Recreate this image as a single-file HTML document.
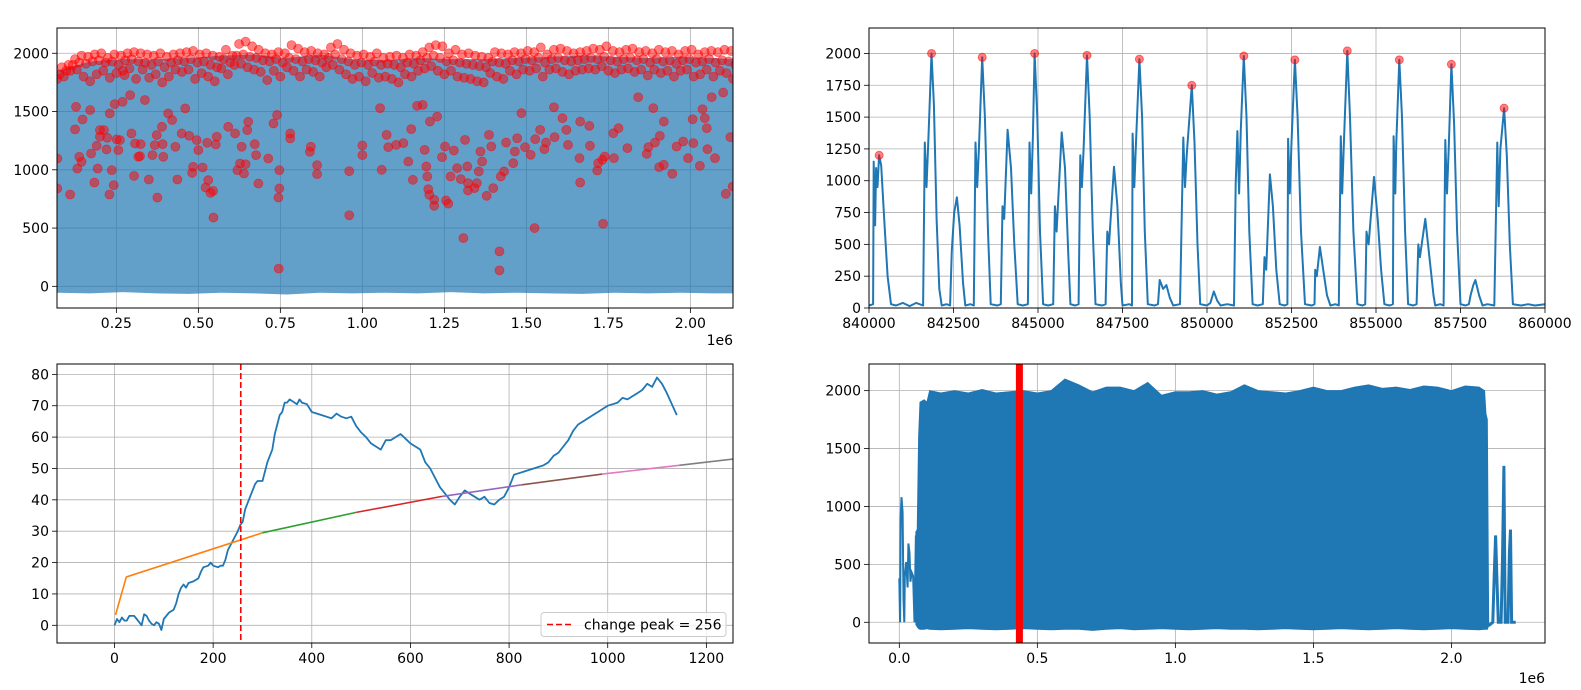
<!DOCTYPE html>
<html><head><meta charset="utf-8">
<style>
html,body{margin:0;padding:0;background:#fff;}
svg{display:block;font-family:"DejaVu Sans","Liberation Sans",sans-serif;}
</style></head>
<body>
<svg id="fig" xmlns="http://www.w3.org/2000/svg" width="1581" height="690" viewBox="0 0 1581 690"></svg>
<script>
// ---------- top-left data (x in 1e6) ----------
const tlFillX=[0.07,0.17,0.27,0.37,0.47,0.57,0.67,0.77,0.87,0.97,1.07,1.17,1.27,1.37,1.47,1.57,1.67,1.77,1.87,1.97,2.07,2.13];
const tlFillTop=[1850,1930,1950,1950,1960,1980,1990,1960,1990,1950,1940,1960,1950,1950,1960,1970,1980,1970,1960,1970,1960,1950];
const tlFillLow=[-55,-60,-50,-60,-65,-55,-60,-70,-55,-60,-55,-60,-50,-60,-55,-60,-65,-55,-60,-55,-60,-60];
const bandStart=0.07, bandStep=0.02;
const bandTop=[1880,1900,1950,1980,1970,1990,2000,1960,1990,1980,2000,2010,2000,1990,1980,2000,1970,1990,2000,2010,2020,1990,2000,1980,1970,2030,1980,2080,2100,2060,2030,2000,1990,2010,2000,2070,2040,2010,2020,2000,1990,2050,2080,2030,2000,1980,1990,1970,2000,1960,1970,1980,1960,1990,1980,2010,2050,2070,2060,2000,2030,1990,2000,1980,1970,1960,2010,2000,1990,2010,2000,2020,2010,2050,1990,2030,2040,2020,2000,2010,2020,2040,2030,2060,2020,2010,2030,2040,2010,2020,2000,2030,2010,2020,1990,2020,2030,1990,2010,2020,2010,2030,2020,2000];
const bandMid=[1820,1850,1900,1920,1910,1930,1940,1920,1930,1900,1940,1950,1930,1920,1900,1930,1880,1920,1940,1930,1950,1920,1930,1900,1880,1950,1920,1980,1990,1970,1960,1940,1930,1950,1920,1960,1950,1930,1950,1940,1920,1960,1990,1950,1930,1900,1920,1900,1930,1900,1910,1900,1880,1920,1910,1940,1960,1980,1960,1930,1940,1920,1910,1900,1890,1880,1930,1920,1910,1940,1930,1950,1940,1960,1920,1950,1960,1940,1930,1940,1950,1960,1950,1970,1940,1930,1950,1960,1940,1950,1920,1950,1930,1940,1910,1940,1950,1920,1930,1950,1920,1940,1930,1900];
const bandLow=[1780,1800,1850,1860,1800,1760,1820,1850,1790,1830,1850,1870,1780,1860,1790,1820,1750,1800,1860,1840,1860,1780,1830,1800,1760,1870,1820,1900,1910,1880,1860,1840,1770,1850,1800,1880,1850,1800,1860,1840,1800,1880,1900,1860,1820,1780,1800,1760,1830,1790,1800,1780,1750,1820,1800,1850,1870,1890,1850,1820,1850,1800,1790,1780,1760,1750,1830,1800,1780,1850,1820,1860,1850,1870,1800,1860,1870,1840,1820,1850,1860,1870,1860,1890,1850,1830,1860,1870,1840,1860,1810,1860,1830,1850,1800,1850,1860,1800,1820,1860,1800,1850,1830,1780];
const outX=[0.07,0.07,0.109,0.131,0.137,0.144,0.127,0.124,0.147,0.17,0.173,0.183,0.19,0.193,0.2,0.2,0.212,0.22,0.222,0.229,0.23,0.236,0.242,0.251,0.256,0.261,0.245,0.269,0.275,0.292,0.296,0.304,0.307,0.317,0.322,0.324,0.337,0.349,0.36,0.367,0.375,0.373,0.389,0.393,0.391,0.408,0.42,0.43,0.436,0.449,0.46,0.472,0.481,0.484,0.495,0.5,0.513,0.522,0.527,0.53,0.537,0.545,0.546,0.553,0.556,0.591,0.612,0.619,0.627,0.632,0.639,0.644,0.649,0.652,0.672,0.676,0.683,0.713,0.729,0.74,0.747,0.747,0.744,0.745,0.78,0.78,0.84,0.843,0.862,0.862,0.96,0.96,1.0,1.0,1.059,1.054,1.074,1.079,1.103,1.125,1.14,1.154,1.149,1.167,1.184,1.19,1.195,1.198,1.201,1.204,1.219,1.219,1.206,1.228,1.243,1.252,1.255,1.262,1.269,1.279,1.289,1.3,1.308,1.313,1.32,1.322,1.322,1.342,1.349,1.355,1.365,1.36,1.379,1.386,1.393,1.399,1.418,1.418,1.422,1.432,1.438,1.46,1.465,1.472,1.485,1.496,1.513,1.525,1.527,1.542,1.555,1.56,1.586,1.584,1.61,1.622,1.627,1.662,1.664,1.664,1.692,1.694,1.716,1.719,1.732,1.734,1.739,1.765,1.767,1.781,1.808,1.841,1.867,1.872,1.887,1.892,1.905,1.907,1.919,1.919,1.945,1.958,1.978,1.993,2.007,2.009,2.029,2.037,2.044,2.05,2.052,2.065,2.075,2.1,2.108,2.122,2.129];
const outY=[1097,840,788,1011,1112,1069,1541,1347,1432,1513,1140,891,1206,1011,1341,1284,1341,1175,1275,788,1484,997,868,1261,1169,1255,1564,1584,1813,1641,1312,948,1226,1112,1117,1220,1599,917,1126,1212,762,1298,1369,1112,1220,1484,1427,1198,917,1312,1527,1292,974,1026,1255,1169,1020,848,1232,911,802,819,590,1218,1284,1369,1312,997,1054,1198,968,1048,1341,1412,1220,1126,882,1097,1398,1470,997,840,762,152,1269,1312,1155,1198,1040,963,988,610,1209,1126,1000,1529,1300,1194,1214,1229,1071,914,1349,1549,1557,1171,1029,943,834,786,743,691,1414,1457,1109,1200,737,709,943,1166,1014,920,414,1257,1029,886,823,843,886,986,1071,1157,777,1300,1200,843,300,137,943,986,1234,1057,1157,1271,1486,1194,1129,500,1263,1343,1177,1234,1280,1537,1443,1343,1214,1100,891,1414,1377,1206,994,1057,1086,537,1114,1314,1100,1357,1186,1623,1137,1194,1529,1234,1023,1291,1414,1043,966,1200,1243,1100,1434,1229,1034,1520,1443,1357,1177,1623,1100,1663,794,1280,857];
const tlXTicks=[0.25,0.5,0.75,1.0,1.25,1.5,1.75,2.0];
const tlXLabels=["0.25","0.50","0.75","1.00","1.25","1.50","1.75","2.00"];
const tlYTicks=[0,500,1000,1500,2000];

// ---------- top-right data (x offset from 840000) ----------
const sigX=[0,120,140,180,210,250,300,360,450,550,650,800,1000,1200,1400,1600,1650,1700,1760,1850,1920,2000,2080,2150,2300,2400,2450,2520,2600,2680,2780,2850,3000,3100,3150,3200,3250,3350,3430,3520,3600,3800,3900,3950,4000,4100,4200,4300,4400,4550,4700,4750,4800,4850,4900,4980,5060,5150,5300,5450,5500,5550,5700,5800,5900,5960,6100,6200,6250,6300,6350,6450,6530,6620,6700,6900,7000,7050,7100,7250,7350,7450,7500,7700,7780,7800,7850,7900,8000,8080,8160,8250,8450,8550,8600,8700,8800,8900,9000,9200,9300,9350,9400,9550,9630,9720,9800,10000,10100,10200,10300,10400,10600,10800,10850,10900,10950,11000,11090,11170,11250,11350,11500,11650,11700,11750,11860,11950,12050,12150,12300,12380,12400,12450,12500,12600,12680,12780,12900,13100,13180,13200,13250,13340,13450,13550,13650,13800,13900,13960,14000,14050,14150,14230,14330,14450,14600,14680,14720,14780,14940,15050,15150,15250,15400,15500,15520,15570,15600,15690,15770,15860,15950,16100,16200,16250,16300,16460,16600,16700,16750,16900,17000,17050,17100,17150,17230,17310,17400,17500,17650,17750,17800,17880,17940,18050,18150,18300,18500,18590,18630,18680,18790,18870,18960,19050,19300,19500,19700,20000];
const sigY=[20,30,1150,650,1100,950,1200,1120,700,250,30,20,40,15,40,20,1300,950,1350,2000,1600,700,150,20,30,20,450,750,870,650,200,20,30,20,1300,950,1250,1970,1500,600,30,20,30,800,700,1400,1100,500,30,20,30,1300,900,1350,2000,1500,600,30,20,30,800,600,1380,1100,400,30,20,30,1200,950,1250,1985,1500,600,30,20,30,600,500,1110,800,200,20,30,20,1370,950,1300,1955,1500,600,30,20,30,220,150,180,80,20,30,1340,950,1200,1750,1300,500,30,20,40,130,60,20,30,20,980,1390,900,1400,1980,1500,600,30,20,30,400,300,1050,800,300,30,20,30,1330,900,1300,1950,1500,600,30,20,30,300,250,480,280,100,20,30,20,1350,900,1300,2020,1500,600,30,20,30,600,500,1030,700,300,30,20,30,1350,900,1300,1950,1500,600,30,20,30,500,400,700,350,100,20,30,20,1320,900,1250,1915,1450,600,30,20,30,100,180,220,100,20,30,20,1300,800,1250,1570,1200,500,30,20,30,20,30];
const peakX=[300,1850,3350,4900,6450,8000,9550,11090,12600,14150,15690,17230,18790];
const peakY=[1200,2000,1970,2000,1985,1955,1750,1980,1950,2020,1950,1915,1570];
const trXTicks=[840000,842500,845000,847500,850000,852500,855000,857500,860000];
const trYTicks=[0,250,500,750,1000,1250,1500,1750,2000];

// ---------- bottom-left data ----------
const cumX=[0,5,10,15,20,25,30,35,40,45,50,55,60,65,70,75,80,85,90,95,100,105,110,115,120,125,130,135,140,145,150,160,170,175,180,190,195,200,210,215,220,225,230,240,250,255,260,265,275,285,290,300,310,320,325,335,340,345,350,355,360,370,375,380,390,400,420,440,450,460,470,480,490,500,510,520,530,540,550,560,570,580,590,600,610,620,630,640,650,660,670,680,690,700,710,720,730,740,750,760,770,780,790,800,810,820,830,840,850,860,870,880,890,900,910,920,930,940,950,960,970,980,990,1000,1010,1020,1030,1040,1050,1060,1070,1080,1090,1100,1110,1120,1140];
const cumY=[0,2,1,2.5,1.5,1.5,3,3,3,2,1,0,3.5,3,1.5,0.5,0,1,0.5,-1.5,2,3,4,4.5,5,7,10,12,13,12,13.5,14,15,17,18.5,19,20,19,18.5,19,19,21,24,27,30,32,33,37,41,45,46,46,52,56,61,67,68,71,71,72,71.5,70.5,72,71,70.5,68,67,66,67.5,66.5,66,66.5,63.5,61.5,60,58,57,56,59,59,60,61,59.5,58,57,56,52,50,47,44,42,40,38.5,41,43,42,41,40,41,39,38.5,40,41,44,48,48.5,49,49.5,50,50.5,51,52,54,55,57,59,62,64,65,66,67,68,69,70,70.5,71,72.5,72,73,74,75,77,76,79,77,74,67];
const segX=[[2,24,300],[300,490],[490,664],[664,826],[826,989],[989,1145],[1145,1255]];
const segY=[[3.3,15.4,29.5],[29.5,36],[36,41.1],[41.1,44.8],[44.8,48.2],[48.2,51],[51,53]];
const segColors=["#ff7f0e","#2ca02c","#d62728","#9467bd","#8c564b","#e377c2","#7f7f7f"];
const changePeak=256;
const blXTicks=[0,200,400,600,800,1000,1200];
const blYTicks=[0,10,20,30,40,50,60,70,80];

// ---------- bottom-right data (x in 1e6) ----------
const brStartX=[0.0,0.003,0.005,0.008,0.012,0.015,0.018,0.02,0.025,0.03,0.033,0.037,0.04,0.045,0.05,0.055,0.06];
const brStartY=[380,0,900,1080,950,200,0,400,520,300,680,600,350,430,400,0,750];
const brEnvX=[0.06,0.065,0.07,0.075,0.09,0.1,0.11,0.15,0.2,0.25,0.3,0.35,0.4,0.45,0.5,0.55,0.6,0.65,0.7,0.75,0.8,0.85,0.9,0.95,1.0,1.05,1.1,1.15,1.2,1.25,1.3,1.35,1.4,1.45,1.5,1.55,1.6,1.65,1.7,1.75,1.8,1.85,1.9,1.95,2.0,2.05,2.1,2.12,2.125,2.13,2.135];
const brEnvTop=[780,800,1600,1900,1920,1900,2000,1980,2000,1980,2010,1980,1990,2000,1980,2000,2100,2050,1990,2030,2030,2000,2070,1960,1990,1990,2000,1970,1990,2050,2000,1990,1980,2000,2030,2000,2000,2030,2050,2020,2030,2010,2040,2030,2000,2040,2030,2000,1800,1750,-30];
const brEnvLow=[-20,-40,-55,-60,-60,-55,-60,-65,-60,-55,-60,-65,-60,-55,-60,-65,-60,-60,-70,-60,-55,-65,-60,-55,-60,-65,-60,-55,-60,-60,-65,-60,-55,-60,-65,-60,-55,-60,-65,-60,-55,-60,-65,-60,-55,-60,-65,-60,-60,-60,-30];
const brTailX=[2.135,2.15,2.155,2.16,2.165,2.17,2.18,2.185,2.19,2.195,2.205,2.21,2.214,2.218,2.233];
const brTailY=[-30,0,400,750,350,0,0,550,1350,0,0,600,800,0,0];
const redBarX=0.435;
const brXTicks=[0,0.5,1.0,1.5,2.0];
const brXLabels=["0.0","0.5","1.0","1.5","2.0"];
const brYTicks=[0,500,1000,1500,2000];

const NS="http://www.w3.org/2000/svg";
const fig=document.getElementById('fig');
function el(tag,attrs,parent){const e=document.createElementNS(NS,tag);for(const k in attrs)e.setAttribute(k,attrs[k]);(parent||fig).appendChild(e);return e;}
function makeAxes(L,R,T,B,xmin,xmax,ymin,ymax){return {L,R,T,B,sx:v=>L+(v-xmin)/(xmax-xmin)*(R-L),sy:v=>B-(v-ymin)/(ymax-ymin)*(B-T)};}
function grid(ax,g,xt,yt){
  xt.forEach(v=>{const l=el('line',{x1:ax.sx(v),x2:ax.sx(v),y1:ax.T,y2:ax.B,stroke:'#b0b0b0','stroke-width':0.8},g);
    
    });
  yt.forEach(v=>{const l=el('line',{x1:ax.L,x2:ax.R,y1:ax.sy(v),y2:ax.sy(v),stroke:'#b0b0b0','stroke-width':0.8},g);
    
    });
}
function frame(ax,g,xt,xl,yt,yl){
  const r=el('rect',{x:ax.L,y:ax.T,width:ax.R-ax.L,height:ax.B-ax.T,fill:'none',stroke:'#000','stroke-width':1},g);
  
  
  xt.forEach((v,i)=>{const x=ax.sx(v);
    el('line',{x1:x,x2:x,y1:ax.B,y2:ax.B+5,stroke:'#000','stroke-width':0.8},g);
    const t=el('text',{x:x,y:ax.B+20,'text-anchor':'middle','font-size':'14px',fill:'#000'},g);
    
    
    t.textContent=xl[i];});
  yt.forEach((v,i)=>{const y=ax.sy(v);
    el('line',{x1:ax.L-5,x2:ax.L,y1:y,y2:y,stroke:'#000','stroke-width':0.8},g);
    const t=el('text',{x:ax.L-8,y:y+5,'text-anchor':'end','font-size':'14px',fill:'#000'},g);
    
    
    t.textContent=yl[i];});
}
function clip(id,ax){const c=el('clipPath',{id:id});el('rect',{x:ax.L,y:ax.T,width:ax.R-ax.L,height:ax.B-ax.T},c);}
function pts(ax,xs,ys){return xs.map((x,i)=>ax.sx(x).toFixed(1)+','+ax.sy(ys[i]).toFixed(1)).join(' ');}

// ===== Top-left =====
{
const ax=makeAxes(57,733,28,308,0.069,2.130,-186,2217);
const g=el('g',{});


clip('c1',ax);
grid(ax,g,tlXTicks,tlYTicks);
const d=el('g',{'clip-path':'url(#c1)'},g);
const poly=tlFillX.map((x,i)=>ax.sx(x)+','+ax.sy(tlFillTop[i])).concat(tlFillX.slice().reverse().map((x,j)=>ax.sx(x)+','+ax.sy(tlFillLow[tlFillX.length-1-j]))).join(' ');
const f=el('polygon',{points:poly,fill:'rgba(31,119,180,0.7)'},d);


const dots=[];
[bandLow,bandMid,bandTop].forEach((arr,k)=>arr.forEach((y,i)=>dots.push([bandStart+bandStep*i+k*0.007,y])));
outX.forEach((x,i)=>dots.push([x,outY[i]]));
dots.forEach(p=>{const c=el('circle',{cx:ax.sx(p[0]),cy:ax.sy(p[1]),r:4.5,fill:'rgba(255,0,0,0.5)',stroke:'rgba(255,0,0,0.5)','stroke-width':0.8},d);
  
  });
frame(ax,g,tlXTicks,tlXLabels,tlYTicks,tlYTicks.map(String));
const o=el('text',{x:733,y:345,'text-anchor':'end','font-size':'14px'},g);


o.textContent='1e6';
}
// ===== Top-right =====
{
const ax=makeAxes(869,1545,28,308,840000,860000,0,2200);
const g=el('g',{});


clip('c2',ax);
grid(ax,g,trXTicks,trYTicks);
const d=el('g',{'clip-path':'url(#c2)'},g);
const l=el('polyline',{points:pts(ax,sigX.map(v=>v+840000),sigY),fill:'none',stroke:'#1f77b4','stroke-width':2,'stroke-linejoin':'round'},d);


peakX.forEach((x,i)=>{const c=el('circle',{cx:ax.sx(x+840000),cy:ax.sy(peakY[i]),r:4,fill:'rgba(255,0,0,0.5)',stroke:'rgba(255,0,0,0.5)'},d);
  
  });
frame(ax,g,trXTicks,trXTicks.map(String),trYTicks,trYTicks.map(String));
}
// ===== Bottom-left =====
{
const ax=makeAxes(57,733,364,643,-116.6,1254,-5.64,83.3);
const g=el('g',{});


clip('c3',ax);
grid(ax,g,blXTicks,blYTicks);
const d=el('g',{'clip-path':'url(#c3)'},g);
const l=el('polyline',{points:pts(ax,cumX,cumY),fill:'none',stroke:'#1f77b4','stroke-width':1.8,'stroke-linejoin':'round'},d);


segX.forEach((xs,i)=>{const s=el('polyline',{points:pts(ax,xs,segY[i]),fill:'none',stroke:segColors[i],'stroke-width':1.6},d);
  
  });
const v=el('line',{x1:ax.sx(changePeak),x2:ax.sx(changePeak),y1:ax.T,y2:ax.B,stroke:'#ff0000','stroke-width':1.6,'stroke-dasharray':'6,3'},d);


frame(ax,g,blXTicks,blXTicks.map(String),blYTicks,blYTicks.map(String));
const lg=el('g',{},g);


el('rect',{x:541,y:612.5,width:185,height:24,rx:3,fill:'rgba(255,255,255,0.8)',stroke:'#cccccc','stroke-width':1},lg);
el('line',{x1:547,x2:574,y1:624.5,y2:624.5,stroke:'#ff0000','stroke-width':1.6,'stroke-dasharray':'6,3'},lg);
const lt=el('text',{x:584,y:629.5,'font-size':'14px'},lg);


lt.textContent='change peak = '+changePeak;
}
// ===== Bottom-right =====
{
const ax=makeAxes(869,1545,364,643,-0.1098,2.339,-179,2230);
const g=el('g',{});


clip('c4',ax);
grid(ax,g,brXTicks,brYTicks);
const d=el('g',{'clip-path':'url(#c4)'},g);
const s=el('polyline',{points:pts(ax,brStartX,brStartY),fill:'none',stroke:'#1f77b4','stroke-width':2},d);


const poly=brEnvX.map((x,i)=>ax.sx(x)+','+ax.sy(brEnvTop[i])).concat(brEnvX.slice().reverse().map((x,j)=>ax.sx(x)+','+ax.sy(brEnvLow[brEnvX.length-1-j]))).join(' ');
const f=el('polygon',{points:poly,fill:'#1f77b4',stroke:'#1f77b4','stroke-width':1},d);


const t=el('polyline',{points:pts(ax,brTailX,brTailY),fill:'none',stroke:'#1f77b4','stroke-width':3},d);


const rb=el('line',{x1:ax.sx(redBarX),x2:ax.sx(redBarX),y1:ax.T,y2:ax.B,stroke:'#ff0000','stroke-width':7},d);


frame(ax,g,brXTicks,brXLabels,brYTicks,brYTicks.map(String));
const o=el('text',{x:1545,y:683,'text-anchor':'end','font-size':'14px'},g);


o.textContent='1e6';
}
</script>
</body></html>
